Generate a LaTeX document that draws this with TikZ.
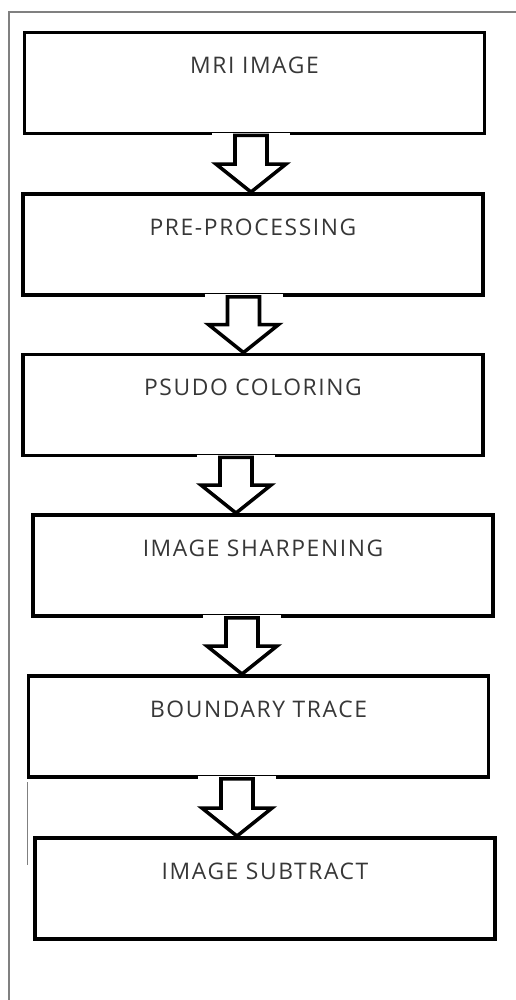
\documentclass[tikz,border=0pt]{standalone}
\usepackage{fontspec}
\setmainfont{Open Sans}[LetterSpace=7]
\usepackage{tikz}
\usepackage{xcolor}
\usetikzlibrary{calc, positioning}
\definecolor{frameGray}{RGB}{128, 128, 128}
\definecolor{labelGray}{RGB}{55, 55, 55}

\tikzset{
    stage/.style={draw, line width=2.2pt, minimum width=9.2cm, minimum height=2.02cm,
        inner sep=0pt, text height=0.24cm, text depth=0.62cm, text=labelGray,
        font=\fontsize{13pt}{15pt}\selectfont},
    flowarrow/.style={draw, fill=white, line width=2pt, miter limit=10}
}

\begin{document}
\begin{tikzpicture}[x=0.02cm, y=-0.02cm]
\useasboundingbox (0,0) rectangle (516,1000);
\draw[frameGray, line width=0.9pt] (9,1000) -- (9,12) -- (516,12);
\draw[frameGray, line width=0.5pt] (27,782) -- (27,865);

\node[stage] (mri)   at (254.5,83)    {MRI IMAGE};
\node[stage] (pre)   at (253,244.5)   {PRE-PROCESSING};
\node[stage] (psudo) at (253,405)     {PSUDO COLORING};
\node[stage] (sharp) at (263,565.5)   {IMAGE SHARPENING};
\node[stage] (trace) at (258.5,726.5) {BOUNDARY TRACE};
\node[stage] (sub)   at (265,888.5)   {IMAGE SUBTRACT};

\foreach \a/\b/\x in {mri/pre/251, pre/psudo/243.5, psudo/sharp/236, sharp/trace/242, trace/sub/237} {
    \path (\x,0 |- \a.south) coordinate (top) (\x,0 |- \b.north) coordinate (tip);
    \draw[white, line width=3pt] ($(top)+(-39,0)$) -- ($(top)+(39,0)$);
    \draw[flowarrow] ($(top)+(-16,0)$) -- ($(top)+(16,0)$) -- ($(tip)+(16,-28)$)
        -- ($(tip)+(35,-28)$) -- (tip) -- ($(tip)+(-35,-28)$) -- ($(tip)+(-16,-28)$) -- cycle;
}
\end{tikzpicture}
\end{document}
